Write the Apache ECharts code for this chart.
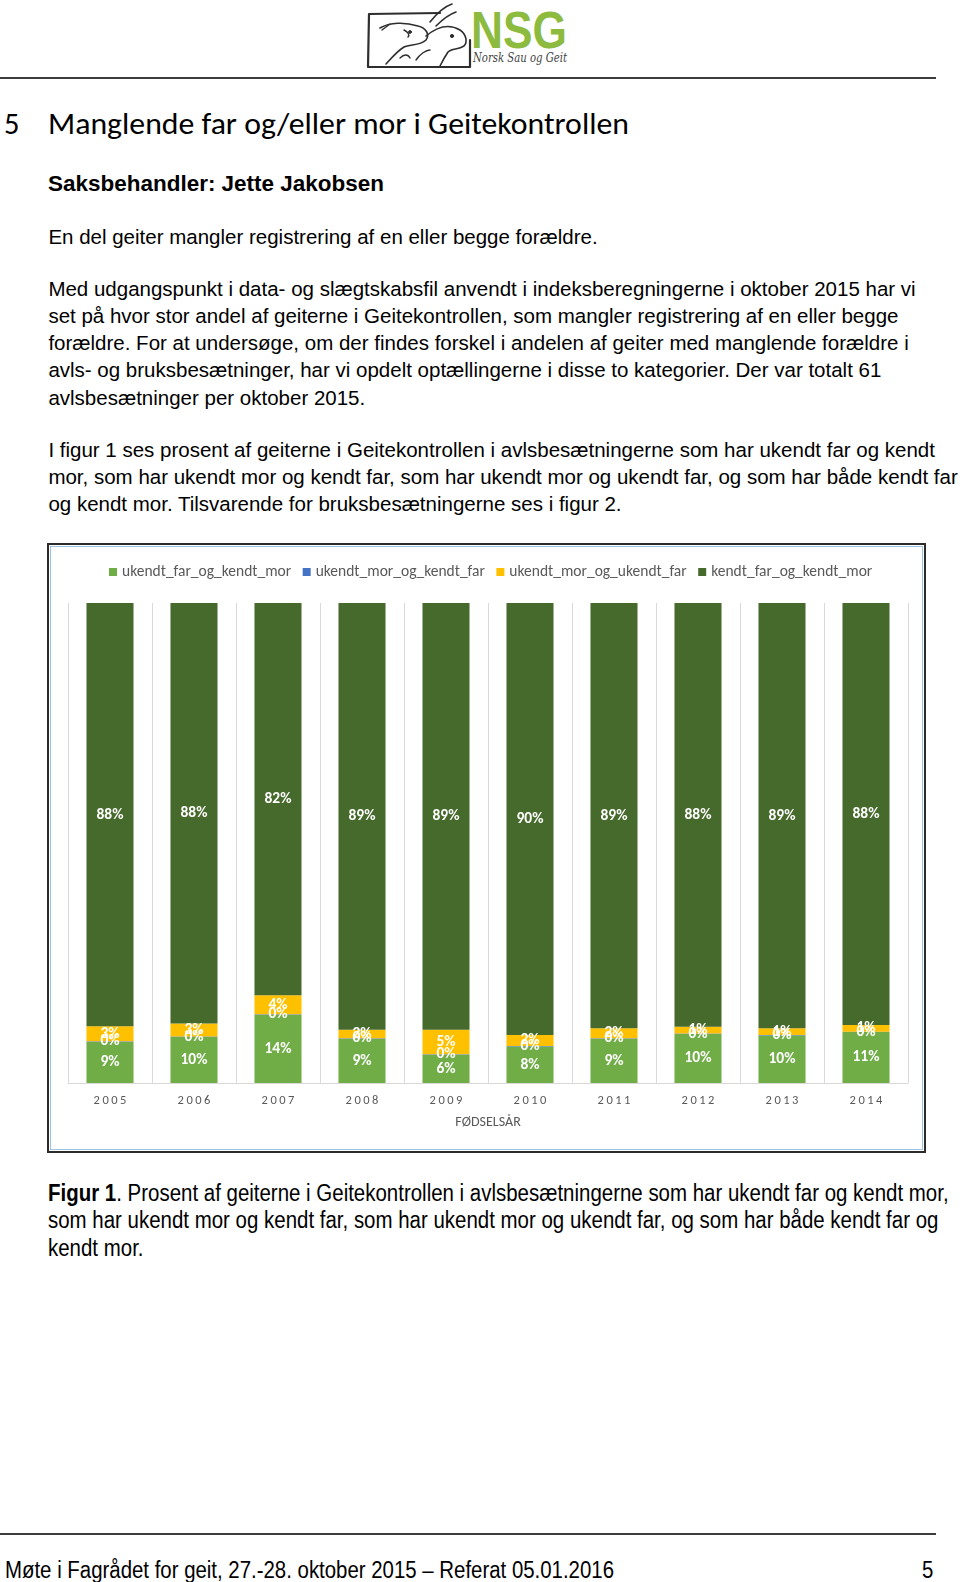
<!DOCTYPE html>
<html><head><meta charset="utf-8">
<script src="https://cdn.jsdelivr.net/npm/echarts@6/dist/echarts.min.js"></script>
<style>
html,body{margin:0;padding:0;background:#fff;}
body{width:960px;height:1582px;position:relative;overflow:hidden;font-family:"Liberation Sans",Arial,sans-serif;color:#000;}
.t{position:absolute;white-space:nowrap;font-size:20.5px;line-height:27px;left:48.4px;}
.fit{transform-origin:0 50%;}
.h{position:absolute;white-space:nowrap;font-family:Carlito,Lato,sans-serif;font-size:30.5px;line-height:40px;}
.nar{position:absolute;white-space:nowrap;font-family:"Liberation Sans Narrow","Liberation Sans",sans-serif;font-size:23.5px;line-height:27px;transform-origin:0 50%;}
#chart{position:absolute;left:47px;top:544px;width:879px;height:608px;}
#frame{position:absolute;left:47px;top:543px;width:879px;height:610px;box-sizing:border-box;border:2px solid #2b2b2b;pointer-events:none;}
#frame div{position:absolute;left:1px;top:1px;right:1px;bottom:1px;border:1.5px solid #9cc2e5;}
.rule{position:absolute;left:0;width:936px;height:2px;background:#3c3c3c;}
</style></head><body>

<svg style="position:absolute;left:360px;top:0" width="220" height="76" viewBox="0 0 220 76">
  <g fill="none" stroke="#2e2e2e" stroke-linecap="round" stroke-linejoin="round">
    <path d="M9 14 L80 13 M9 14 L8 67 L110 67 M110 67 L110 40" stroke-width="2.2"/>
    <path d="M20 28 C30 22 45 22 58 26 C66 28 70 34 66 40 C60 46 50 44 44 47 C36 52 30 60 26 64" stroke-width="1.6"/>
    <path d="M22 30 L30 24 M44 30 C48 32 50 35 48 37" stroke-width="1.4"/>
    <path d="M70 22 C78 12 86 6 92 4 M76 26 C84 18 90 14 96 12" stroke-width="1.6"/>
    <path d="M66 36 C78 26 90 24 100 30 C106 34 108 42 104 46 C98 50 92 48 88 52 C84 58 82 62 80 66" stroke-width="1.6"/>
    <path d="M56 60 C60 54 66 50 70 50 M40 58 C44 54 48 54 50 58" stroke-width="1.4"/>
    <circle cx="92" cy="36" r="1.6" fill="#2e2e2e"/>
    <circle cx="50" cy="32" r="1.4" fill="#2e2e2e"/>
  </g>
  <text x="111" y="48" font-family="Liberation Sans, Arial" font-weight="bold" font-size="52" fill="#8cbb3f" textLength="96" lengthAdjust="spacingAndGlyphs">NSG</text>
  <text x="113" y="62" font-family="DejaVu Serif, serif" font-style="italic" font-size="12" fill="#444" textLength="94" lengthAdjust="spacingAndGlyphs">Norsk Sau og Geit</text>
</svg>
<div class="rule" style="top:77px"></div>

<div class="h" style="left:4px;top:104px">5</div>
<div class="h fit" data-w="581" style="left:48.4px;top:104px">Manglende far og/eller mor i Geitekontrollen</div>

<div class="t fit" data-w="336" style="top:170px;font-weight:bold;font-size:22.4px">Saksbehandler: Jette Jakobsen</div>
<div class="t" style="top:223px">En del geiter mangler registrering af en eller begge forældre.</div>

<div class="t" style="top:274.5px">Med udgangspunkt i data- og slægtskabsfil anvendt i indeksberegningerne i oktober 2015 har vi</div>
<div class="t" style="top:301.8px">set på hvor stor andel af geiterne i Geitekontrollen, som mangler registrering af en eller begge</div>
<div class="t" style="top:329px">forældre. For at undersøge, om der findes forskel i andelen af geiter med manglende forældre i</div>
<div class="t" style="top:356.3px">avls- og bruksbesætninger, har vi opdelt optællingerne i disse to kategorier. Der var totalt 61</div>
<div class="t" style="top:383.6px">avlsbesætninger per oktober 2015.</div>

<div class="t" style="top:435.5px">I figur 1 ses prosent af geiterne i Geitekontrollen i avlsbesætningerne som har ukendt far og kendt</div>
<div class="t" style="top:462.8px">mor, som har ukendt mor og kendt far, som har ukendt mor og ukendt far, og som har både kendt far</div>
<div class="t" style="top:489.5px">og kendt mor. Tilsvarende for bruksbesætningerne ses i figur 2.</div>

<div id="chart"></div>
<div id="frame"><div></div></div>

<div class="nar cap" id="cap1" style="left:48.4px;top:1180px"><b>Figur 1</b>. Prosent af geiterne i Geitekontrollen i avlsbesætningerne som har ukendt far og kendt mor,</div>
<div class="nar cap" style="left:48.4px;top:1207.3px">som har ukendt mor og kendt far, som har ukendt mor og ukendt far, og som har både kendt far og</div>
<div class="nar cap" style="left:48.4px;top:1234.5px">kendt mor.</div>

<div class="rule" style="top:1533px"></div>
<div class="nar" id="foot" style="left:5px;top:1557px">Møte i Fagrådet for geit, 27.-28. oktober 2015 – Referat 05.01.2016</div>
<div class="nar" id="pg" style="left:922px;top:1557px">5</div>

<script>
// ---- data ----
const years = ['2005','2006','2007','2008','2009','2010','2011','2012','2013','2014'];
const seriesNames = ['ukendt_far_og_kendt_mor','ukendt_mor_og_kendt_far','ukendt_mor_og_ukendt_far','kendt_far_og_kendt_mor'];
const ukendtFarKendtMor = [8.6, 9.6, 14.2, 9.2, 5.9, 7.6, 9.2, 10.2, 9.9, 10.6];
const ukendtMorKendtFar = [0.1, 0.1, 0.1, 0.1, 0.1, 0.1, 0.1, 0.1, 0.1, 0.1];
const ukendtMorUkendtFar = [3.1, 2.7, 4.0, 1.8, 5.1, 2.3, 2.1, 1.4, 1.4, 1.4];
const kendtFarKendtMor = [88.2, 87.6, 81.7, 88.9, 88.9, 90.0, 88.6, 88.3, 88.6, 87.9];
const axisTitle = 'FØDSELSÅR';

// ---- text fitting ----
document.querySelectorAll('.fit').forEach(el => {
  const w = el.getBoundingClientRect().width;
  el.style.transform = 'scaleX(' + (parseFloat(el.dataset.w) / w) + ')';
});
const capW = document.getElementById('cap1').getBoundingClientRect().width;
const capS = 900.6 / capW;
document.querySelectorAll('.cap').forEach(el => el.style.transform = 'scaleX(' + capS + ')');
const foot = document.getElementById('foot');
const footS = 609 / foot.getBoundingClientRect().width;
foot.style.transform = 'scaleX(' + footS + ')';
document.getElementById('pg').style.transform = 'scaleX(' + footS + ')';

// ---- chart ----
const colors = ['#70ad47', '#4472c4', '#ffc000', '#466a2c'];
const values = [ukendtFarKendtMor, ukendtMorKendtFar, ukendtMorUkendtFar, kendtFarKendtMor];
const font = 'Carlito, Lato, sans-serif';
const chart = echarts.init(document.getElementById('chart'), null, {renderer: 'canvas'});
chart.setOption({
  animation: false,
  backgroundColor: '#fff',
  color: colors,
  legend: {
    top: 15, left: 57,
    itemWidth: 8, itemHeight: 8, itemGap: 11.5, icon: 'rect',
    textStyle: {color: '#595959', fontSize: 15.5, fontFamily: font},
    data: seriesNames
  },
  grid: {left: 21, right: 18, top: 59, bottom: 69},
  xAxis: {
    type: 'category', data: years,
    axisTick: {show: false},
    axisLine: {lineStyle: {color: '#d9d9d9'}},
    splitLine: {show: true, interval: 0, lineStyle: {color: '#d9d9d9'}},
    axisLabel: {color: '#595959', fontSize: 12.5, margin: 11, fontFamily: font,
      formatter: v => v.split('').join('\u2009')},
    name: axisTitle, nameLocation: 'middle', nameGap: 32,
    nameTextStyle: {color: '#595959', fontSize: 14, fontFamily: font}
  },
  yAxis: {type: 'value', min: 0, max: 100, show: false},
  series: seriesNames.map((n, i) => ({
    name: n, type: 'bar', stack: 'total', barWidth: '56%',
    data: values[i],
    label: {show: true, position: 'inside', color: '#fff', fontWeight: 'bold', fontSize: 15.5,
      fontFamily: font,
      formatter: p => Math.round(p.value) + '%'}
  }))
});
</script>
</body></html>
